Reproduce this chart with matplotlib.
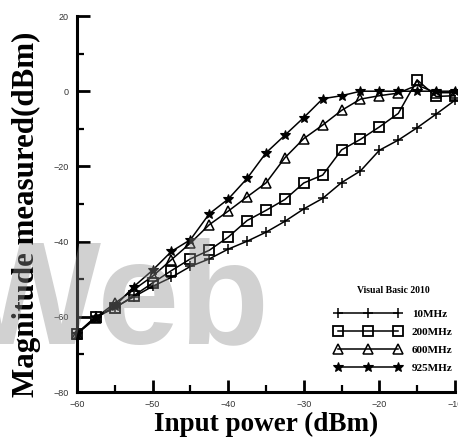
import matplotlib
matplotlib.use('Agg')
import matplotlib.pyplot as plt
from matplotlib.ticker import MultipleLocator

# input power, every 2.5 dBm
power = [-60, -57.5, -55, -52.5, -50, -47.5, -45, -42.5, -40, -37.5, -35,
         -32.5, -30, -27.5, -25, -22.5, -20, -17.5, -15, -12.5, -10]

mag_10 = [-64.4, -59.9, -57.5, -54.7, -51.9, -49.5, -46.6, -44.6, -42.0, -39.9, -37.5,
          -34.6, -31.3, -28.5, -24.3, -21.2, -15.7, -13.0, -9.7, -6.1, -2.4]
mag_200 = [-64.5, -60.0, -57.7, -54.4, -51.0, -47.7, -44.6, -42.3, -38.8, -34.4, -31.7,
           -28.8, -24.4, -22.3, -15.6, -12.8, -9.5, -5.9, 3.0, -1.4, -1.2]
mag_600 = [-64.5, -60.2, -56.4, -52.8, -49.2, -44.8, -40.4, -35.5, -31.9, -28.1, -24.4,
           -17.7, -12.6, -9.0, -5.1, -2.1, -1.2, -0.5, 1.6, -0.4, -0.4]
mag_925 = [-64.5, -60.4, -57.2, -52.0, -47.6, -42.6, -39.5, -32.6, -28.7, -23.2, -16.4,
           -11.7, -7.0, -2.0, -1.2, 0.0, 0.0, 0.0, 0.0, 0.0, 0.0]

labels = ['10MHz', '200MHz', '600MHz', '925MHz']

fig = plt.figure(figsize=(4.58, 4.42), dpi=100)
ax = fig.add_axes([77/458, 50/442, 378/458, 376/442])

ax.plot(power, mag_10, color='black', lw=1.1, marker='+', ms=7.5, mew=1.1,
        clip_on=False, label=labels[0])
ax.plot(power, mag_200, color='black', lw=1.1, marker='s', ms=6.5, mew=1.3, mfc='none',
        clip_on=False, label=labels[1])
ax.plot(power, mag_600, color='black', lw=1.1, marker='^', ms=7, mew=1.1, mfc='none',
        clip_on=False, label=labels[2])
ax.plot(power, mag_925, color='black', lw=1.1, marker='*', ms=7.5, mew=0.8, mfc='black',
        clip_on=False, label=labels[3])

ax.set_xlim(-60, -10)
ax.set_ylim(-80, 20)
ax.xaxis.set_major_locator(MultipleLocator(10))
ax.xaxis.set_minor_locator(MultipleLocator(5))
ax.yaxis.set_major_locator(MultipleLocator(20))
ax.yaxis.set_minor_locator(MultipleLocator(10))

for s in ['top', 'right']:
    ax.spines[s].set_visible(False)
for s in ['left', 'bottom']:
    ax.spines[s].set_linewidth(2.2)

ax.tick_params(which='major', direction='in', length=9, width=2, labelsize=6.5,
               labelcolor='#333333', pad=6)
ax.tick_params(which='minor', direction='in', length=5, width=1.6)
for t in ax.get_xticklabels() + ax.get_yticklabels():
    t.set_family('Liberation Sans')

ax.set_xlabel('Input power (dBm)', family='Liberation Serif', fontweight='bold',
              fontsize=19.5, labelpad=2)
ax.set_ylabel('Magnitude measured(dBm)', family='Liberation Serif', fontweight='bold',
              fontsize=22.3)
ax.yaxis.set_label_coords(-0.095, 0.472)

leg = ax.legend(loc='upper left', bbox_to_anchor=(325/458, 1 - 276/442),
                bbox_transform=fig.transFigure, frameon=False, numpoints=3,
                handlelength=6, handletextpad=0.9, labelspacing=0.75,
                title='Visual Basic 2010',
                prop={'family': 'Liberation Serif', 'weight': 'bold', 'size': 8})
leg.get_title().set_family('Liberation Serif')
leg.get_title().set_fontweight('bold')
leg.get_title().set_fontsize(7)
leg._legend_box.sep = 10

# grey watermark over the plot
fig.text(270/458, 1 - 343/442, 'Web', family='Liberation Sans', fontweight='bold',
         fontsize=106, color='#8c8c8c', alpha=0.4, ha='right', va='baseline', zorder=10)

fig.savefig('out.png', dpi=100)
